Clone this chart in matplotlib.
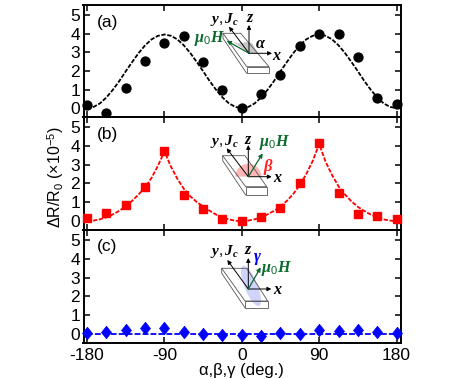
import numpy as np
import matplotlib
matplotlib.use('Agg')
import matplotlib.pyplot as plt
from matplotlib.patches import Polygon, Wedge, Ellipse

plt.rcParams['font.family'] = ['Liberation Sans', 'DejaVu Sans']
plt.rcParams['mathtext.fontset'] = 'custom'
plt.rcParams['mathtext.rm'] = 'Liberation Sans'
plt.rcParams['mathtext.it'] = 'Liberation Serif:italic:bold'
plt.rcParams['mathtext.bf'] = 'Liberation Serif:italic:bold'
plt.rcParams['mathtext.fallback'] = 'stix'

W, H = 471, 379

# measured points, every 22.5 deg
angles = [-180, -157.5, -135, -112.5, -90, -67.5, -45, -22.5, 0,
          22.5, 45, 67.5, 90, 112.5, 135, 157.5, 180]
vals_a = [0.15, -0.27, 1.09, 2.52, 3.48, 3.87, 2.48, 0.95, 0.0,
          0.75, 1.80, 3.34, 3.95, 3.95, 2.73, 0.57, 0.23]
vals_b = [0.16, 0.41, 0.88, 1.79, 3.73, 1.39, 0.63, 0.13, 0.0,
          0.23, 0.68, 2.04, 4.16, 1.50, 0.38, 0.25, 0.11]
vals_c = [0.07, 0.09, 0.21, 0.30, 0.34, 0.09, 0.0, -0.05, -0.03,
          -0.10, 0.07, 0.0, 0.20, 0.16, 0.20, 0.14, 0.07]

# fit curves, every 7.5 deg
fit_angles = [-180, -172.5, -165, -157.5, -150, -142.5, -135, -127.5, -120, -112.5, -105, -97.5,
              -90, -82.5, -75, -67.5, -60, -52.5, -45, -37.5, -30, -22.5, -15, -7.5,
              0, 7.5, 15, 22.5, 30, 37.5, 45, 52.5, 60, 67.5, 75, 82.5,
              90, 97.5, 105, 112.5, 120, 127.5, 135, 142.5, 150, 157.5, 165, 172.5, 180]
fit_a = [0.0, 0.07, 0.26, 0.58, 0.99, 1.46, 1.98, 2.48, 2.96, 3.37, 3.69, 3.88,
         3.95, 3.88, 3.69, 3.37, 2.96, 2.48, 1.98, 1.46, 0.99, 0.58, 0.26, 0.07,
         0.0, 0.07, 0.26, 0.58, 0.99, 1.46, 1.98, 2.48, 2.96, 3.37, 3.69, 3.88,
         3.95, 3.88, 3.69, 3.37, 2.96, 2.48, 1.98, 1.46, 0.99, 0.58, 0.26, 0.07, 0.0]
fit_b = [0.0, 0.03, 0.10, 0.20, 0.36, 0.55, 0.80, 1.08, 1.42, 1.80, 2.30, 2.95,
         3.70, 2.90, 2.25, 1.72, 1.32, 1.02, 0.78, 0.55, 0.35, 0.20, 0.09, 0.02,
         0.0, 0.03, 0.10, 0.21, 0.36, 0.55, 0.78, 1.08, 1.45, 1.92, 2.50, 3.20,
         4.10, 3.15, 2.45, 1.85, 1.42, 1.05, 0.76, 0.54, 0.35, 0.20, 0.09, 0.03, 0.0]
fit_c = [0.0] * 49

yticks = [0, 1, 2, 3, 4, 5]
xticks = [-180, -90, 0, 90, 180]
xticklabels = ['-180', '-90', '0', '90', '180']

fig = plt.figure(figsize=(W / 100, H / 100), dpi=100)


def make_axes(top, bottom):
    ax = fig.add_axes([83.5 / W, 1 - bottom / H, (401 - 83.5) / W, (bottom - top) / H])
    ax.set_xlim(-184.2, 185.2)
    ax.set_ylim(-0.47, 5.53)
    ax.set_xticks(xticks)
    ax.set_yticks(yticks)
    ax.tick_params(direction='in', top=True, right=True, length=4, width=1.1,
                   labelsize=12.5, pad=2.5)
    ax.tick_params(axis='x', pad=3.5)
    for s in ax.spines.values():
        s.set_linewidth(1.4)
    return ax


ax1 = make_axes(5, 117)
ax2 = make_axes(117, 230)
ax3 = make_axes(230, 343)

# wider than the stock 'd' marker
wide_diamond = [(0, 1), (0.8, 0), (0, -1), (-0.8, 0), (0, 1)]

ax1.plot(fit_angles, fit_a, color='k', ls=(0, (2.4, 0.9)), lw=1.3)
ax1.plot(angles, vals_a, 'o', color='k', ms=6.4, clip_on=False, zorder=5)
ax2.plot(fit_angles, fit_b, color='#ff0000', ls=(0, (2.4, 0.9)), lw=1.3)
ax2.plot(angles, vals_b, 's', color='#ff0000', ms=5.6, clip_on=False, zorder=5)
ax3.plot(fit_angles, fit_c, color='#0000ff', ls=(0, (3.2, 1.2)), lw=1.3)
ax3.plot(angles, vals_c, ls='none', marker=wide_diamond, color='#0000ff', ms=9,
         mew=0.5, clip_on=False, zorder=5)

ax1.set_xticklabels([])
ax2.set_xticklabels([])
ax3.set_xticklabels(xticklabels)

# overlay in picture pixels for the panel letters and the little sketches
ov = fig.add_axes([0, 0, 1, 1], zorder=10)
ov.set_xlim(0, W)
ov.set_ylim(H, 0)
ov.axis('off')

ov.text(97, 23, '(a)', fontsize=12.5, va='center', ha='left')
ov.text(97, 135, '(b)', fontsize=12.5, va='center', ha='left')
ov.text(97, 247, '(c)', fontsize=12.5, va='center', ha='left')

ov.text(241, 371, 'α,β,γ (deg.)', fontsize=12, ha='center', va='center')
ov.text(56, 177, r'ΔR/R$_{\mathrm{0}}$ (×10$^{\mathrm{-5}}$)', fontsize=11.5,
        rotation=90, ha='center', va='center')


def arrow(x0, y0, x1, y1, color='k', lw=0.7):
    ov.annotate('', xy=(x1, y1), xytext=(x0, y0),
                arrowprops=dict(arrowstyle='-|>', color=color, lw=lw, shrinkA=0, shrinkB=0,
                                mutation_scale=6))


def slab(tl, tr, br, bl, bottom, origin, x_end, z_end, y_end, h_end):
    edge = '#555555'
    ov.add_patch(Polygon([tl, tr, br, bl], closed=True, fc='none', ec=edge, lw=0.6))
    ov.add_patch(Polygon([bl, br, (br[0], bottom), (bl[0], bottom)], closed=True,
                         fc='none', ec=edge, lw=0.6))
    ov.plot([tl[0], tl[0], bl[0]], [tl[1], tl[1] + 5, bottom], color=edge, lw=0.6)
    arrow(*origin, *x_end)
    arrow(*origin, *z_end)
    arrow(*origin, *y_end)
    arrow(*origin, *h_end, color='#0b6b2e', lw=0.9)


GREEN = '#0b6b2e'
serif = dict(fontsize=11.5, ha='center', va='center')
yj = dict(fontsize=11, ha='center', va='center')

# sketch (a)
ov.add_patch(Polygon([(249, 53.3), (232, 41), (238, 43.5), (246, 42), (252, 43), (258, 53.3)],
                     closed=True, fc='#c8c8c8', ec='none', zorder=1))
slab((223, 33.3), (240.7, 33.3), (269, 66.7), (246.7, 66.7), 73.3,
     (249, 53.3), (272, 53.3), (249, 25), (229, 26.7), (226.7, 40.7))
ov.text(225, 20, r'$\mathit{y,J_c}$', **yj)
ov.text(250, 18, r'$\mathit{z}$', **serif)
ov.text(277, 55, r'$\mathit{x}$', **serif)
ov.text(261, 44, r'$\alpha$', **serif)
ov.text(210, 39, r'$\mu_{\mathit{0}}\mathit{H}$', color=GREEN, **serif)

# sketch (b)
ov.add_patch(Wedge((248.3, 176.7), 13, 180, 360, fc='#ffb6b6', ec='none', zorder=1))
slab((222.7, 155.7), (245, 155.7), (266.7, 186.7), (245.7, 186.7), 195,
     (248.3, 176.7), (271.7, 176.7), (248.3, 145), (226.7, 148.3), (262.7, 153.3))
ov.text(225, 141, r'$\mathit{y,J_c}$', **yj)
ov.text(248.5, 139, r'$\mathit{z}$', **serif)
ov.text(278, 177, r'$\mathit{x}$', **serif)
ov.text(268, 167, r'$\beta$', color='#ff2020', fontsize=12, ha='center', va='center')
ov.text(274.5, 142, r'$\mu_{\mathit{0}}\mathit{H}$', color=GREEN, **serif)

# sketch (c)
ov.add_patch(Ellipse((251, 286), 13, 43, angle=-22, fc='#d0d4fb', ec='none', zorder=1))
slab((221.7, 268.3), (246.7, 268.3), (267.7, 301), (245, 301), 307.7,
     (248.3, 289), (271.3, 289), (248.3, 258), (227.3, 260), (260.7, 267.3))
ov.text(225, 252, r'$\mathit{y,J_c}$', **yj)
ov.text(248.5, 250, r'$\mathit{z}$', **serif)
ov.text(278, 289, r'$\mathit{x}$', **serif)
ov.text(257, 259, r'$\gamma$', color='#0000ff', fontsize=12, ha='center', va='center')
ov.text(277, 268, r'$\mu_{\mathit{0}}\mathit{H}$', color=GREEN, **serif)

fig.savefig('out.png', dpi=100)
